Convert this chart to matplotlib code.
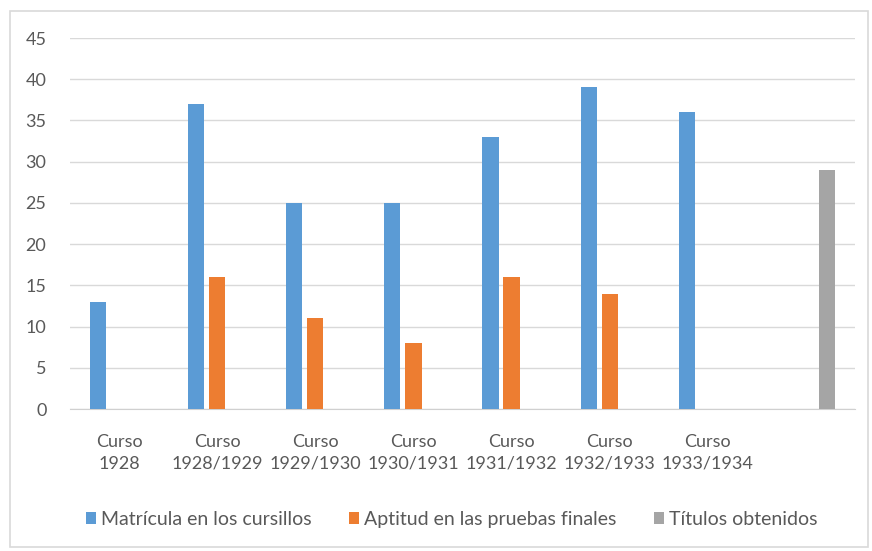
import numpy as np
import matplotlib.pyplot as plt
from matplotlib.patches import FancyBboxPatch

cursos = ["Curso\n1928", "Curso\n1928/1929", "Curso\n1929/1930", "Curso\n1930/1931",
          "Curso\n1931/1932", "Curso\n1932/1933", "Curso\n1933/1934", ""]
matricula = [13, 37, 25, 25, 33, 39, 36, 0]
aptitud = [0, 16, 11, 8, 16, 14, 0, 0]
titulos = [0, 0, 0, 0, 0, 0, 0, 29]

series = [
    ("Matrícula en los cursillos", matricula, "#5B9BD5"),
    ("Aptitud en las pruebas finales", aptitud, "#ED7D31"),
    ("Títulos obtenidos", titulos, "#A5A5A5"),
]

plt.rcParams['font.family'] = ['Lato', 'DejaVu Sans']
txt = "#595959"

fig = plt.figure(figsize=(8.72, 5.51), dpi=100)
fig.patches.append(FancyBboxPatch((0.012, 0.008), 0.983, 0.972, boxstyle="square,pad=0",
                                  transform=fig.transFigure, fill=False,
                                  edgecolor="#d9d9d9", linewidth=1.2))

ax = fig.add_axes([0.0803, 0.2577, 0.9002, 0.6733])
x = np.arange(len(cursos))
w = 0.165
step = 0.215
for k, (name, vals, col) in enumerate(series):
    ax.bar(x + (k - 1) * step, vals, width=w, color=col, label=name, zorder=3)

ax.set_xlim(-0.5, len(cursos) - 0.5)
ax.set_ylim(0, 45)
ax.set_yticks(range(0, 46, 5))
ax.set_xticks(x)
ax.set_xticklabels(cursos, linespacing=1.45)
ax.yaxis.grid(True, color="#d9d9d9", linewidth=1.0, zorder=0)
for s in ["top", "right", "left"]:
    ax.spines[s].set_visible(False)
ax.spines["bottom"].set_color("#d0d0d0")
ax.tick_params(axis="both", length=0, labelsize=13, colors=txt)
ax.tick_params(axis="x", pad=18)
ax.tick_params(axis="y", pad=17)

leg = fig.legend(loc="center", bbox_to_anchor=(0.518, 0.058), ncol=3, frameon=False,
                 handlelength=0.55, handleheight=0.55, handletextpad=0.25,
                 columnspacing=1.9, fontsize=14)
for t in leg.get_texts():
    t.set_color(txt)

fig.savefig("out.png", dpi=100)
